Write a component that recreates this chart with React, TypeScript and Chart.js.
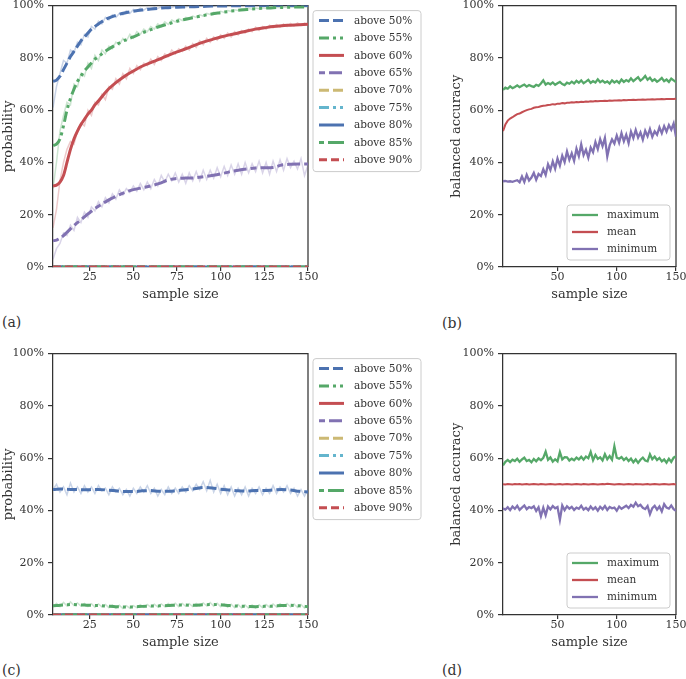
import React, { useEffect, useRef } from "react";
import { Chart, registerables } from "chart.js";

Chart.register(...registerables);

// ---------------- data ----------------
// sample sizes for the raw (noisy) curves: 4, 6, ..., 150
const SAMPLE_SIZES: number[] = Array.from({ length: 74 }, (_, i) => 4 + 2 * i);
// sample sizes for the smoothed curves
const SMOOTH_X = [4, 6, 8, 10, 12, 14, 16, 18, 20, 22, 24, 26, 28, 30, 35, 40, 45, 50, 55, 60, 65, 70, 75, 80, 85, 90, 95, 100, 105, 110, 115, 120, 125, 130, 135, 140, 145, 150];
const ZERO_X = [4, 150];
const ZERO_Y = [0, 0];

const PCT_TICKS = [0, 20, 40, 60, 80, 100];
const X_TICKS_PROB = [25, 50, 75, 100, 125, 150];
const X_TICKS_ACC = [50, 100, 150];

const THRESHOLD_LABELS = ["above 50%", "above 55%", "above 60%", "above 65%", "above 70%", "above 75%", "above 80%", "above 85%", "above 90%"];
const ACC_LABELS = ["maximum", "mean", "minimum"];

// (a) raw probabilities
const RAW_A_50 = [61, 69, 74, 79, 78, 83, 82, 86, 85, 89,
  88, 92, 91, 94, 93, 95.5, 94.5, 96.5, 95.5, 97,
  96.5, 98, 97, 98.5, 97.8, 99, 98.3, 99.2, 98.6, 99.4,
  98.9, 99.5, 99.2, 99.6, 99.3, 99.7, 99.4, 99.8, 99.5, 99.8,
  99.6, 99.9, 99.7, 99.9, 99.7, 100, 99.8, 100, 99.8, 100,
  99.9, 100, 99.9, 100, 99.9, 100, 100, 99.9, 100, 100,
  99.9, 100, 100, 100, 99.9, 100, 100, 100, 100, 100,
  100, 100, 100, 100];
const RAW_A_55 = [30, 40, 52, 58, 63, 62, 70, 69, 74, 73,
  78, 76, 81, 79, 83, 81.5, 84.5, 83.5, 86, 85,
  87.5, 86.5, 89, 87.5, 90, 89, 91, 90, 92, 91,
  93, 92, 93.8, 92.8, 94.5, 93.8, 95, 94.3, 95.5, 95,
  96, 95.5, 96.5, 96, 97, 96.6, 97.4, 97, 97.8, 97.4,
  98.1, 97.8, 98.4, 98.1, 98.7, 98.4, 98.9, 98.6, 99.1, 98.8,
  99.2, 99, 99.3, 99.1, 99.4, 99.2, 99.5, 99.3, 99.5, 99.4,
  99.6, 99.4, 99.6, 99.5];
const RAW_A_60 = [15, 22, 33, 40, 45, 48, 47, 52, 55, 54,
  60, 58, 63, 62, 66, 64, 69, 68, 72, 70,
  74, 72, 76, 74, 77, 75.5, 78, 77, 79.5, 77.5,
  80.5, 79, 81.5, 80.5, 83, 81.5, 83.5, 82.5, 84.5, 83,
  85.5, 84, 86.5, 85, 87.5, 86, 88, 86.8, 88.8, 87.5,
  89.5, 88, 90, 88.8, 90.5, 89.5, 91, 90, 91.8, 90.5,
  92, 91, 92.5, 91.5, 92.8, 91.8, 93, 92, 93.2, 92.2,
  93.4, 92.4, 93.3, 92.6];
const RAW_A_65 = [3, 7, 9, 13, 12, 16, 14, 19, 17, 21,
  19, 23, 21.5, 25, 23, 26.5, 24.5, 28, 26, 29.5,
  27.5, 30, 28.5, 31, 29, 32, 29.5, 32.5, 30, 33.5,
  31, 35, 32.5, 35.5, 33, 36, 32.5, 35.5, 32, 36,
  33, 36.5, 33, 37, 33.5, 37, 34, 38, 34.5, 38.5,
  35, 39, 35.5, 39.5, 35.5, 40, 36, 39.5, 36.5, 40.5,
  36, 40, 35.5, 40.5, 36.5, 41, 37, 41.5, 38, 40.5,
  37.5, 41.5, 35, 39];

// (a) smoothed probabilities (on SMOOTH_X)
const SM_A_50 = [71, 71.5, 73, 75.5, 78, 80.5, 82.5, 84.5, 86.5, 88, 89.5, 91, 92, 93,
  95, 96.3, 97.2, 97.8, 98.3, 98.7, 99, 99.2, 99.4, 99.5, 99.6, 99.7, 99.8, 99.8, 99.9, 99.9, 99.9, 100, 100, 100, 100, 100, 100, 100];
const SM_A_55 = [46.5, 47, 49, 54, 60, 64.5, 68, 71, 73, 75, 76.5, 78, 79.5, 80.5,
  83, 85, 86.7, 88, 89.5, 90.8, 92, 93, 94, 94.8, 95.5, 96.2, 96.8, 97.3, 97.8, 98.2, 98.5, 98.8, 99, 99.2, 99.3, 99.4, 99.5, 99.5];
const SM_A_60 = [31, 31.3, 32.5, 35, 40, 45, 49, 52, 54.5, 56.5, 58.5, 60, 62, 63.5,
  67.5, 70.5, 73, 75, 76.8, 78.2, 79.5, 81, 82.3, 83.5, 84.8, 86, 87, 88, 88.8, 89.5, 90.3, 91, 91.5, 92, 92.3, 92.5, 92.7, 92.9];
const SM_A_65 = [10, 10.3, 11, 12, 13.3, 14.6, 15.8, 17, 18, 19.2, 20.3, 21.3, 22.3, 23.2,
  25.3, 27, 28.5, 29.6, 30.3, 31, 32, 33.3, 33.9, 34, 34.1, 34.5, 35, 35.6, 36.4, 37, 37.5, 37.9, 38, 38.1, 39, 39.3, 39.4, 39.4];

// (c) raw and smoothed probabilities
const RAW_C_50 = [48, 50, 47, 49, 46, 50.5, 47, 49, 46.5, 49.5,
  47, 49, 46.5, 49.5, 47.5, 48.5, 46, 49, 47, 48.5,
  46, 48, 45.5, 48.5, 46.5, 49, 47, 49.5, 46.5, 48.5,
  45.5, 48, 46, 49, 46.5, 48.5, 46.5, 49, 47, 49.5,
  47.5, 50, 48, 51, 47.5, 51.5, 47, 50, 46.5, 49.5,
  46, 49, 45.5, 48.5, 46, 49, 45.5, 48.5, 46.5, 49,
  46, 48.5, 46.5, 49.5, 46.5, 49, 47, 49.5, 46.5, 48.5,
  45.5, 48, 45.5, 48];
const RAW_C_55 = [3, 4.5, 3.2, 4.8, 3.5, 5, 3.6, 4.6, 3.4, 4.4,
  3.2, 4.3, 3, 4.2, 3.1, 4, 2.8, 3.8, 2.6, 3.7,
  2.5, 3.6, 2.6, 3.6, 2.8, 3.9, 2.9, 4, 3, 4.1,
  3.1, 4.2, 3.2, 4.4, 3.3, 4.5, 3.2, 4.4, 3.3, 4.3,
  3.2, 4.4, 3.4, 4.6, 3.5, 4.8, 3.4, 4.5, 3.2, 4.3,
  3, 4.1, 2.8, 4, 2.7, 3.8, 2.6, 3.8, 2.7, 3.9,
  2.8, 4, 3, 4.2, 3.1, 4.3, 3.2, 4.4, 3.1, 4.2,
  2.9, 4, 2.7, 3.6];
const SM_C_50 = [48, 48.1, 48.2, 48.2, 48.1, 48, 48, 48, 47.9, 47.9, 47.9, 48, 48, 48,
  47.8, 47.5, 47.2, 47.2, 47.5, 47.6, 47.3, 47.3, 47.6, 47.9, 48.3, 48.8, 48.6, 48.1, 47.8, 47.5, 47.4, 47.6, 47.6, 47.8, 48, 47.8, 47.3, 47.1];
const SM_C_55 = [3.5, 3.6, 3.7, 3.8, 3.9, 4, 4, 3.9, 3.8, 3.8, 3.7, 3.7, 3.6, 3.6,
  3.4, 3.2, 3.1, 3.1, 3.3, 3.4, 3.5, 3.6, 3.8, 3.8, 3.7, 3.9, 4, 3.9, 3.6, 3.4, 3.3, 3.2, 3.3, 3.4, 3.6, 3.7, 3.5, 3.2];

// (b) balanced accuracy
const B_MAX = [67.8, 68.6, 68.2, 69.1, 68.4, 68.9, 69.5, 68.8, 69.3, 69.8,
  69, 69.6, 69.2, 68.9, 69.7, 69.3, 70.2, 71.4, 69.8, 70.4,
  69.9, 70.6, 69.7, 70.3, 70.8, 70, 69.6, 70.5, 70.1, 70.9,
  70.2, 71.2, 70.5, 71.4, 70.3, 70.9, 71.6, 70.4, 71.1, 70.6,
  71.8, 70.7, 71.3, 70.5, 71, 70.2, 71.4, 70.6, 71.2, 70.4,
  71.7, 70.8, 71.5, 71, 72.2, 71.1, 71.9, 72.6, 71.3, 72,
  73.1, 71.6, 72.4, 71.2, 71.8, 70.9, 71.5, 72.3, 71.1, 71.7,
  70.8, 72.1, 71.4, 70.7];
const B_MEAN = [52, 54.5, 56, 56.8, 57.3, 57.9, 58.5, 58.7, 59.2, 59.6,
  60, 60.3, 60.5, 60.9, 61.1, 61.2, 61.5, 61.7, 61.8, 62,
  62.1, 62.3, 62.2, 62.5, 62.5, 62.7, 62.6, 62.8, 62.8, 63,
  62.9, 63.1, 63, 63.2, 63.1, 63.3, 63.2, 63.4, 63.3, 63.5,
  63.4, 63.5, 63.5, 63.6, 63.5, 63.7, 63.6, 63.7, 63.7, 63.8,
  63.7, 63.9, 63.8, 63.9, 63.9, 64, 63.9, 64, 64, 64.1,
  64, 64.1, 64.1, 64.2, 64.1, 64.2, 64.2, 64.3, 64.2, 64.3,
  64.3, 64.3, 64.3, 64.4];
const B_MIN = [32.8, 32.9, 32.7, 32.8, 32.6, 32.9, 33.2, 32.4, 34.6, 32.5,
  35.3, 33.1, 34.2, 36, 33.4, 35.6, 34.8, 37.4, 35.2, 39.3,
  37.1, 40.4, 37.6, 41.5, 38.8, 42.6, 40.1, 44.2, 41, 43.5,
  40.6, 45.3, 42.4, 46.9, 42.8, 44.9, 41.8, 45.7, 43.9, 47.8,
  45.1, 48.9, 46.2, 49.4, 42.3, 46.5, 48.8, 47.2, 50.3, 47.6,
  51.2, 48.1, 50.6, 47.4, 51.8, 49.3, 52.4, 49.5, 51.5, 48.7,
  52.1, 50, 52.8, 49.8, 51.9, 50.6, 53.4, 51.2, 53.9, 51.8,
  54.3, 52.5, 54.9, 49.8];

// (d) balanced accuracy
const D_MAX = [57.2, 58.6, 59.3, 58.5, 59.4, 58.9, 59.8, 58.6, 59.5, 60.2,
  58.9, 59.3, 58.4, 59.7, 58.8, 59.9, 59.2, 60.1, 62.5, 59.4,
  60.3, 58.7, 59.6, 58.8, 62.3, 59.5, 60.4, 60.3, 59.1, 59.8,
  59.2, 60.2, 59.5, 60.5, 59.4, 60.6, 60, 62.4, 59.2, 61.2,
  59.7, 60.3, 59.1, 61.5, 59.6, 60.8, 59.4, 64.5, 60.2, 59.8,
  60.4, 59.3, 60.1, 58.9, 59.8, 58.4, 59.5, 58.2, 59.4, 60.2,
  59.1, 58.8, 61.5, 59.6, 60.6, 59.3, 60.1, 58.8, 59.5, 58.3,
  59.8, 58.6, 60.2, 60.7];
const D_MEAN = [50, 49.9, 50.1, 50, 49.9, 50.1, 50, 50.1, 49.9, 50,
  50.1, 49.9, 50, 50.1, 50, 49.9, 50.1, 50, 49.9, 50,
  50.1, 50, 49.9, 50, 50.1, 49.9, 50, 50.1, 50, 49.9,
  50, 50.1, 50, 49.9, 50.1, 50, 49.9, 50, 50.1, 50,
  49.9, 50, 50.1, 50, 50.2, 50.1, 50, 49.9, 50, 50.1,
  50, 49.9, 50, 50.1, 50, 49.9, 50.1, 50, 50, 49.9,
  50, 50.1, 49.9, 50, 50.1, 50, 49.9, 50, 50.1, 50,
  49.9, 50, 50.1, 49.9];
const D_MIN = [40.8, 40.3, 41.2, 40.1, 41.5, 40.6, 41.8, 40.2, 41.1, 41.9,
  40.5, 41.3, 40.9, 41.6, 39.8, 41.2, 37.8, 41, 38.2, 41.5,
  40.4, 41.7, 40.8, 41.3, 36.4, 41.9, 40.1, 41.6, 40.7, 41.4,
  40.2, 41.1, 40.6, 41.8, 40.3, 41, 40.1, 41.5, 40.4, 41.2,
  39.9, 41.4, 40.5, 41.7, 40.2, 41.3, 40.8, 41.1, 39.9, 41.5,
  40.6, 41.2, 41.8, 40.9, 42.1, 41.4, 43, 41.6, 42.2, 41,
  40.5, 41.7, 38.6, 40.9, 41.8, 40.3, 41.5, 39.6, 42.4, 41.1,
  40.7, 41.9, 40.5, 39.8];

// ---------------- styles ----------------
const FONT = "'DejaVu Serif', serif";
const AXIS = "#333333";
const TXT = "#333333";
const BLUE = "#4C72B0";
const GREEN = "#55A868";
const RED = "#C44E52";
const PURPLE = "#8172B2";
const YELLOW = "#CCB974";
const CYAN = "#64B5CD";

const THRESHOLD_STYLES = [
  { color: BLUE, dash: [10, 4] },
  { color: GREEN, dash: [10, 4, 3, 4, 3, 4] },
  { color: RED, dash: [] as number[] },
  { color: PURPLE, dash: [6, 4, 13, 4] },
  { color: YELLOW, dash: [10, 4] },
  { color: CYAN, dash: [10, 4, 3, 4, 3, 4] },
  { color: BLUE, dash: [] as number[] },
  { color: GREEN, dash: [5, 4, 16, 4] },
  { color: RED, dash: [8, 4] },
];
const ACC_STYLES = [GREEN, RED, PURPLE];

function faint(hex: string, a: number) {
  const n = parseInt(hex.slice(1), 16);
  return `rgba(${(n >> 16) & 255},${(n >> 8) & 255},${n & 255},${a})`;
}

function line(xs: number[], ys: number[], o: any) {
  return {
    label: o.label || "",
    data: xs.map((x, i) => ({ x, y: ys[i] })),
    borderColor: o.color,
    borderWidth: o.width,
    borderDash: o.dash || [],
    pointRadius: 0,
    pointHoverRadius: 0,
    fill: false,
    tension: o.smooth ? 0.4 : 0,
    cubicInterpolationMode: o.smooth ? "monotone" : "default",
    order: o.order,
    clip: 0,
  };
}

function probDatasets(smooth: (number[] | null)[], raw: (number[] | null)[]) {
  const ds: any[] = [];
  THRESHOLD_STYLES.forEach((s, i) => {
    const sm = smooth[i];
    ds.push(line(sm ? SMOOTH_X : ZERO_X, sm ? sm : ZERO_Y, { label: THRESHOLD_LABELS[i], color: s.color, dash: s.dash, width: 3, smooth: !!sm, order: 20 - i }));
    const r = raw[i];
    if (r) ds.push(line(SAMPLE_SIZES, r, { color: faint(s.color, 0.3), width: 1.5, order: 100 - i }));
  });
  return ds;
}

function accDatasets(series: number[][]) {
  return series.map((ys, i) => line(SAMPLE_SIZES, ys, { label: ACC_LABELS[i], color: ACC_STYLES[i], width: i === 1 ? 2 : 2.3, order: 10 - i }));
}

const frame = {
  id: "frame",
  beforeDatasetsDraw(chart: any) {
    const { ctx, chartArea: a } = chart;
    ctx.save();
    ctx.strokeStyle = AXIS;
    ctx.lineWidth = 1.25;
    ctx.beginPath();
    ctx.moveTo(a.left, a.top);
    ctx.lineTo(a.right, a.top);
    ctx.lineTo(a.right, a.bottom);
    ctx.stroke();
    ctx.restore();
  },
};

function makeLegend(spec: any) {
  return {
    id: "boxLegend",
    afterDraw(chart: any) {
      const { ctx, chartArea: a } = chart;
      const x0 = spec.place === "right" ? a.right + spec.dx : a.right - spec.dx - spec.w;
      const y0 = spec.place === "right" ? a.top + spec.dy : a.bottom - spec.dy - spec.h;
      ctx.save();
      const r = 3;
      ctx.beginPath();
      ctx.moveTo(x0 + r, y0);
      ctx.arcTo(x0 + spec.w, y0, x0 + spec.w, y0 + spec.h, r);
      ctx.arcTo(x0 + spec.w, y0 + spec.h, x0, y0 + spec.h, r);
      ctx.arcTo(x0, y0 + spec.h, x0, y0, r);
      ctx.arcTo(x0, y0, x0 + spec.w, y0, r);
      ctx.closePath();
      ctx.fillStyle = "rgba(255,255,255,0.85)";
      ctx.fill();
      ctx.strokeStyle = "#cccccc";
      ctx.lineWidth = 1;
      ctx.stroke();
      spec.items.forEach((it: any, i: number) => {
        const y = y0 + spec.first + i * spec.row;
        ctx.beginPath();
        ctx.setLineDash(it.dash);
        ctx.strokeStyle = it.color;
        ctx.lineWidth = spec.lw;
        ctx.moveTo(x0 + spec.l0, y);
        ctx.lineTo(x0 + spec.l1, y);
        ctx.stroke();
        ctx.setLineDash([]);
        ctx.fillStyle = TXT;
        ctx.font = `10.5px ${FONT}`;
        ctx.textBaseline = "middle";
        ctx.textAlign = "left";
        ctx.fillText(it.label, x0 + spec.tx, y + 0.5);
      });
      ctx.restore();
    },
  };
}

function buildConfig(p: any) {
  const padTop = p.plot.t - p.ct;
  const padRight = p.cl + p.cw - p.plot.r;
  const yW = p.plot.l - p.cl;
  const xH = p.ct + p.ch - p.plot.b;
  const tickFont = { family: FONT, size: 11 };
  const titleFont = { family: FONT, size: 13 };
  return {
    type: "line",
    data: { datasets: p.datasets },
    options: {
      responsive: false,
      animation: false,
      events: [],
      layout: { padding: { top: padTop, right: padRight, left: 0, bottom: 0 } },
      plugins: { legend: { display: false }, tooltip: { enabled: false } },
      scales: {
        x: {
          type: "linear",
          min: p.xMin,
          max: 150,
          afterBuildTicks: (s: any) => { s.ticks = p.xTicks.map((v: number) => ({ value: v })); },
          afterFit: (s: any) => { s.height = xH; },
          grid: { display: true, drawOnChartArea: false, drawTicks: true, tickLength: 4, color: AXIS, lineWidth: 1.2 },
          border: { display: true, color: AXIS, width: 1.25 },
          ticks: { font: tickFont, color: TXT, padding: 0, maxRotation: 0, autoSkip: false },
          title: { display: true, text: "sample size", font: titleFont, color: TXT, padding: { top: 0, bottom: 4.5 } },
        },
        y: {
          type: "linear",
          min: 0,
          max: 100,
          afterBuildTicks: (s: any) => { s.ticks = PCT_TICKS.map((v) => ({ value: v })); },
          afterFit: (s: any) => { s.width = yW; },
          grid: { display: true, drawOnChartArea: false, drawTicks: true, tickLength: 5, color: AXIS, lineWidth: 1.2 },
          border: { display: true, color: AXIS, width: 1.25 },
          ticks: { font: tickFont, color: TXT, padding: 4, callback: (v: any) => `${v}%` },
          title: { display: true, text: p.yTitle, font: titleFont, color: TXT, padding: { top: 1, bottom: 0 } },
        },
      },
    },
    plugins: [frame, makeLegend(p.legend)],
  };
}

const probLegend = {
  place: "right", dx: 5, dy: 5, w: 108, h: 161, first: 10, row: 17.4, l0: 6, l1: 31, tx: 41, lw: 3,
  items: THRESHOLD_LABELS.map((label, i) => ({ label, color: THRESHOLD_STYLES[i].color, dash: THRESHOLD_STYLES[i].dash })),
};
const accLegend = {
  place: "inside", dx: 6, dy: 7, w: 103, h: 55, first: 10, row: 17, l0: 5, l1: 31, tx: 40, lw: 2.3,
  items: ACC_LABELS.map((label, i) => ({ label, color: ACC_STYLES[i], dash: [] })),
};

const PANELS = [
  {
    key: "a", cl: 0, ct: -5, cw: 430, ch: 312, plot: { l: 53, t: 5, r: 308, b: 267 }, xMin: 4, xTicks: X_TICKS_PROB, yTitle: "probability",
    datasets: probDatasets([SM_A_50, SM_A_55, SM_A_60, SM_A_65, null, null, null, null, null], [RAW_A_50, RAW_A_55, RAW_A_60, RAW_A_65, null, null, null, null, null]),
    legend: probLegend,
  },
  {
    key: "b", cl: 448, ct: -5, cw: 250, ch: 312, plot: { l: 503, t: 5, r: 676, b: 267 }, xMin: 4, xTicks: X_TICKS_ACC, yTitle: "balanced accuracy",
    datasets: accDatasets([B_MAX, B_MEAN, B_MIN]),
    legend: accLegend,
  },
  {
    key: "c", cl: 0, ct: 343, cw: 430, ch: 312, plot: { l: 53, t: 353, r: 308, b: 615 }, xMin: 4, xTicks: X_TICKS_PROB, yTitle: "probability",
    datasets: probDatasets([SM_C_50, SM_C_55, null, null, null, null, null, null, null], [RAW_C_50, RAW_C_55, null, null, null, null, null, null, null]),
    legend: probLegend,
  },
  {
    key: "d", cl: 448, ct: 343, cw: 250, ch: 312, plot: { l: 503, t: 353, r: 676, b: 615 }, xMin: 4, xTicks: X_TICKS_ACC, yTitle: "balanced accuracy",
    datasets: accDatasets([D_MAX, D_MEAN, D_MIN]),
    legend: accLegend,
  },
];

const PANEL_TAGS = [
  { text: "(a)", left: 2, top: 314 },
  { text: "(b)", left: 442, top: 315 },
  { text: "(c)", left: 2, top: 662 },
  { text: "(d)", left: 442, top: 662 },
];

function Panel({ p }: { p: any }) {
  const ref = useRef<HTMLCanvasElement>(null);
  useEffect(() => {
    const chart = new Chart(ref.current as HTMLCanvasElement, buildConfig(p) as any);
    return () => chart.destroy();
  }, []);
  return (
    <canvas
      ref={ref}
      width={p.cw}
      height={p.ch}
      style={{ position: "absolute", left: p.cl, top: p.ct, width: p.cw, height: p.ch }}
    />
  );
}

export default function App() {
  return (
    <div style={{ position: "fixed", left: 0, top: 0, width: 686, height: 679, overflow: "hidden", background: "#fff" }}>
      {PANELS.map((p) => <Panel key={p.key} p={p} />)}
      {PANEL_TAGS.map((t) => (
        <div key={t.text} style={{ position: "absolute", left: t.left, top: t.top, fontFamily: FONT, fontSize: 14, lineHeight: "16px", color: TXT }}>
          {t.text}
        </div>
      ))}
    </div>
  );
}
